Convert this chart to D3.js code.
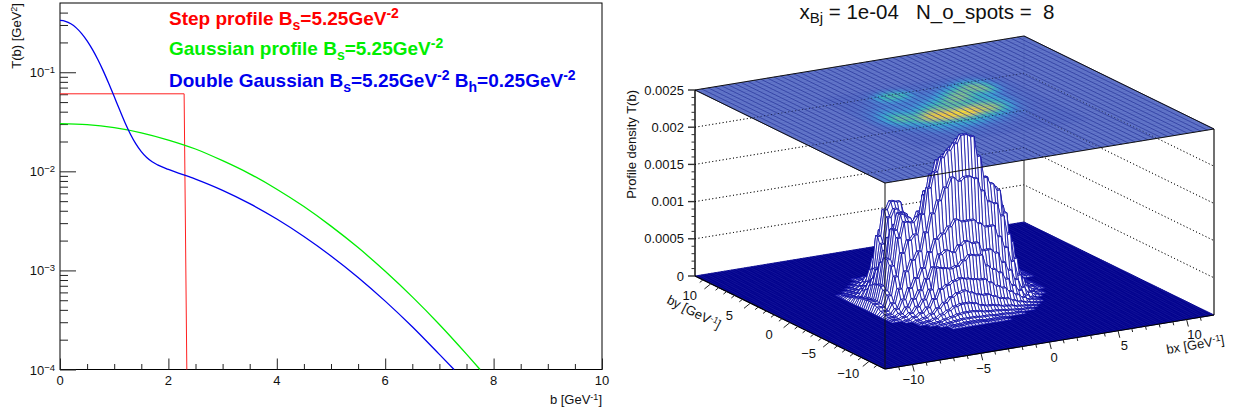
<!DOCTYPE html>
<html>
<head>
<meta charset="utf-8">
<script src="https://cdn.jsdelivr.net/npm/d3@7"></script>
<style>
html, body { margin: 0; padding: 0; background: #fff; }
svg { display: block; }
text { font-family: "Liberation Sans", Arial, sans-serif; fill: #111; }
</style>
</head>
<body>
<script>
// left pad: profiles T(b)
var bStep = [0, 2.29, 2.34];
var tStep = [0.0606, 0.0606, 0.0001];
var bGauss = [0, 0.5, 1, 1.5, 2, 2.5, 3, 3.5, 4, 4.5, 5, 5.5, 6, 6.5, 7, 7.5, 7.75];
var tGauss = [0.0303, 0.0296, 0.0276, 0.0245, 0.0207, 0.0168, 0.0128, 0.00944, 0.0066, 0.00441, 0.0028, 0.0017, 0.00098, 0.000541, 0.000285, 0.000143, 0.0001];
var bDouble = [0, 0.1, 0.2, 0.3, 0.4, 0.5, 0.6, 0.7, 0.8, 0.9, 1, 1.1, 1.2, 1.3, 1.4, 1.5, 1.6, 1.7, 1.8, 2, 2.5, 3, 3.5, 4, 4.5, 5, 5.5, 6, 6.5, 7, 7.27];
var tDouble = [0.3333, 0.3268, 0.3086, 0.2806, 0.2458, 0.2077, 0.1694, 0.1338, 0.1027, 0.0769, 0.0568, 0.0418, 0.031, 0.0237, 0.0189, 0.0158, 0.01377, 0.01248, 0.01162, 0.01045, 0.00835, 0.00643, 0.00472, 0.0033, 0.0022, 0.0014, 0.00085, 0.00049, 0.00027, 0.000142, 0.0001];
var yMajor = [0.0001, 0.001, 0.01, 0.1];
var yMinor = [0.0002, 0.0003, 0.0004, 0.0005, 0.0006, 0.0007, 0.0008, 0.0009, 0.002, 0.003, 0.004, 0.005, 0.006, 0.007, 0.008, 0.009, 0.02, 0.03, 0.04, 0.05, 0.06, 0.07, 0.08, 0.09, 0.2, 0.3, 0.4];
var yLabels = ["\u22124", "\u22123", "\u22122", "\u22121"];
var xMajor = [0, 2, 4, 6, 8, 10];
var xMinor = [0.5, 1, 1.5, 2.5, 3, 3.5, 4.5, 5, 5.5, 6.5, 7, 7.5, 8.5, 9, 9.5];

// right pad: hot spots, read off the top map and the wire peaks
// rows by = 6..-6, columns bx = -6..6, units 1e-5
var gridBx = [-6, -5.5, -5, -4.5, -4, -3.5, -3, -2.5, -2, -1.5, -1, -0.5, 0, 0.5, 1, 1.5, 2, 2.5, 3, 3.5, 4, 4.5, 5, 5.5, 6];
var gridBy = [6, 5.5, 5, 4.5, 4, 3.5, 3, 2.5, 2, 1.5, 1, 0.5, 0, -0.5, -1, -1.5, -2, -2.5, -3, -3.5, -4, -4.5, -5, -5.5, -6];
var density = [
    [0, 0, 0, 0, 0, 1, 2, 3, 5, 5, 4, 3, 2, 2, 2, 3, 3, 3, 4, 5, 5, 4, 2, 1, 0],
    [0, 0, 0, 0, 1, 3, 8, 22, 34, 30, 20, 9, 5, 5, 5, 6, 8, 10, 14, 18, 16, 10, 5, 2, 0],
    [0, 0, 0, 1, 3, 10, 34, 70, 92, 88, 60, 24, 10, 8, 9, 12, 18, 26, 40, 52, 48, 30, 12, 4, 1],
    [0, 0, 1, 3, 7, 22, 66, 100, 110, 108, 90, 44, 16, 14, 16, 24, 36, 58, 84, 98, 92, 60, 24, 7, 2],
    [0, 1, 2, 5, 10, 26, 58, 92, 102, 96, 74, 38, 22, 22, 30, 48, 68, 92, 116, 128, 122, 90, 38, 10, 3],
    [1, 2, 4, 8, 14, 24, 40, 58, 62, 54, 40, 30, 28, 36, 56, 82, 106, 118, 126, 134, 128, 102, 44, 13, 3],
    [2, 3, 8, 14, 20, 26, 30, 34, 36, 34, 32, 32, 40, 58, 88, 112, 124, 122, 114, 128, 132, 108, 42, 12, 3],
    [3, 6, 14, 22, 28, 30, 30, 30, 32, 34, 38, 44, 60, 86, 112, 128, 130, 116, 96, 100, 108, 74, 28, 9, 2],
    [5, 12, 22, 32, 38, 38, 34, 32, 36, 46, 58, 70, 90, 112, 126, 132, 130, 110, 84, 74, 66, 40, 16, 6, 1],
    [7, 16, 30, 46, 54, 50, 44, 40, 48, 66, 84, 94, 104, 118, 122, 120, 108, 92, 76, 60, 42, 24, 10, 4, 1],
    [9, 24, 44, 68, 80, 72, 60, 58, 76, 96, 108, 116, 112, 112, 110, 104, 92, 86, 80, 62, 40, 20, 8, 3, 0],
    [10, 28, 56, 88, 104, 98, 84, 84, 110, 128, 130, 124, 118, 118, 116, 116, 112, 108, 96, 72, 44, 20, 8, 2, 0],
    [11, 30, 64, 102, 122, 116, 108, 120, 146, 158, 150, 140, 134, 136, 140, 142, 136, 126, 106, 76, 42, 18, 6, 2, 0],
    [10, 26, 58, 94, 114, 112, 118, 146, 172, 190, 196, 204, 214, 210, 186, 156, 148, 142, 116, 78, 38, 14, 4, 1, 0],
    [8, 22, 46, 76, 92, 98, 124, 158, 178, 196, 204, 212, 222, 218, 190, 160, 150, 140, 108, 68, 30, 10, 3, 1, 0],
    [5, 14, 32, 54, 68, 78, 102, 126, 142, 158, 170, 164, 168, 164, 146, 130, 126, 108, 82, 48, 20, 6, 2, 0, 0],
    [3, 9, 20, 34, 46, 58, 78, 94, 100, 108, 116, 112, 112, 106, 100, 100, 84, 68, 48, 28, 12, 3, 1, 0, 0],
    [2, 5, 12, 22, 32, 46, 60, 76, 80, 76, 84, 88, 84, 72, 72, 66, 52, 40, 26, 14, 6, 2, 0, 0, 0],
    [1, 3, 7, 14, 22, 34, 62, 60, 58, 60, 66, 72, 70, 54, 48, 42, 32, 22, 14, 6, 2, 0, 0, 0, 0],
    [0, 1, 4, 8, 14, 24, 36, 40, 44, 46, 44, 42, 40, 34, 28, 24, 18, 12, 7, 3, 1, 0, 0, 0, 0],
    [0, 0, 2, 4, 8, 14, 20, 26, 30, 32, 28, 24, 22, 18, 14, 12, 8, 5, 3, 1, 0, 0, 0, 0, 0],
    [0, 0, 1, 2, 4, 8, 12, 16, 18, 18, 16, 12, 10, 8, 6, 5, 3, 2, 1, 0, 0, 0, 0, 0, 0],
    [0, 0, 0, 1, 2, 4, 6, 8, 9, 9, 8, 6, 5, 4, 3, 2, 1, 1, 0, 0, 0, 0, 0, 0, 0],
    [0, 0, 0, 0, 1, 2, 3, 4, 4, 4, 3, 3, 2, 2, 1, 1, 0, 0, 0, 0, 0, 0, 0, 0, 0],
    [0, 0, 0, 0, 0, 1, 1, 2, 2, 2, 1, 1, 1, 0, 0, 0, 0, 0, 0, 0, 0, 0, 0, 0, 0]
];
var zTicks = [0, 0.0005, 0.001, 0.0015, 0.002, 0.0025];
var zLabels = ["0", "0.0005", "0.001", "0.0015", "0.002", "0.0025"];
var zMinor = [0.0001, 0.0002, 0.0003, 0.0004, 0.0006, 0.0007, 0.0008, 0.0009, 0.0011, 0.0012, 0.0013, 0.0014, 0.0016, 0.0017, 0.0018, 0.0019, 0.0021, 0.0022, 0.0023, 0.0024];
var bTicks = [-10, -5, 0, 5, 10];
var bMinor = [-11, -9, -8, -7, -6, -4, -3, -2, -1, 1, 2, 3, 4, 6, 7, 8, 9, 11];
var paletteValues = [0, 25, 60, 100, 130, 170, 200, 222];
var paletteColors = ["#5a6fc6", "#4f7fd0", "#3fa6d8", "#43bcb4", "#86c48e", "#e6cc48", "#ffd03a", "#ffe630"];

var svg = d3.select("body").append("svg")
    .attr("width", 1247)
    .attr("height", 417);

// ---- left pad ----
var xScale = d3.scaleLinear().domain([0, 10]).range([60, 602]);
var yScale = d3.scaleLog().domain([0.0001, 0.5]).range([369.5, 3]);

var left = svg.append("g").attr("class", "leftPad");

left.append("rect")
    .attr("x", 60)
    .attr("y", 3)
    .attr("width", 542)
    .attr("height", 366.5)
    .style("fill", "none")
    .style("stroke", "#000")
    .style("stroke-width", 1);

function tickAxis(axis, at){
    var g = left.append("g").attr("transform", at).call(axis);
    g.selectAll(".domain").remove();
    g.selectAll("text").remove();
    g.selectAll("line").style("stroke", "#222");
    return g;
}

tickAxis(d3.axisRight(yScale).tickValues(yMajor).tickSize(16), "translate(60,0)");
tickAxis(d3.axisRight(yScale).tickValues(yMinor).tickSize(8), "translate(60,0)");
tickAxis(d3.axisTop(xScale).tickValues(xMajor).tickSize(11), "translate(0,369.5)");
tickAxis(d3.axisTop(xScale).tickValues(xMinor).tickSize(5.5), "translate(0,369.5)");

var yText = left.selectAll(".yLabel")
    .data(yMajor)
    .enter()
    .append("text")
    .attr("class", "yLabel")
    .attr("text-anchor", "end")
    .attr("x", 55)
    .attr("y", function(d){ return yScale(d) + 5; })
    .style("font-size", "13px");
yText.append("tspan").text("10");
yText.append("tspan")
    .attr("dy", -4)
    .style("font-size", "9.5px")
    .text(function(d, i){ return yLabels[i]; });

left.selectAll(".xLabel")
    .data(xMajor)
    .enter()
    .append("text")
    .attr("class", "xLabel")
    .attr("text-anchor", "middle")
    .attr("x", function(d){ return xScale(d); })
    .attr("y", 385)
    .style("font-size", "13px")
    .text(function(d){ return d; });

var xTitle = left.append("text")
    .attr("text-anchor", "end")
    .attr("x", 602)
    .attr("y", 404)
    .style("font-size", "13px");
xTitle.append("tspan").text("b [GeV");
xTitle.append("tspan").attr("dy", -4).style("font-size", "9px").text("-1");
xTitle.append("tspan").attr("dy", 4).text("]");

var yTitle = left.append("text")
    .attr("text-anchor", "end")
    .attr("transform", "translate(21,3) rotate(-90)")
    .style("font-size", "13px");
yTitle.append("tspan").text("T(b) [GeV");
yTitle.append("tspan").attr("dy", -4).style("font-size", "9px").text("2");
yTitle.append("tspan").attr("dy", 4).text("]");

var profile = d3.line()
    .x(function(d){ return xScale(d[0]); })
    .y(function(d){ return yScale(d[1]); });

function drawProfile(bs, ts, color, curve, width){
    left.append("path")
        .datum(d3.zip(bs, ts))
        .attr("d", profile.curve(curve))
        .style("fill", "none")
        .style("stroke", color)
        .style("stroke-width", width);
}
drawProfile(bStep, tStep, "#ff2020", d3.curveLinear, 1);
drawProfile(bGauss, tGauss, "#00ee00", d3.curveMonotoneX, 1.3);
drawProfile(bDouble, tDouble, "#0000ee", d3.curveMonotoneX, 1.3);

function note(x, y, color, parts){
    var t = left.append("text")
        .attr("x", x)
        .attr("y", y)
        .style("font-weight", "bold")
        .style("fill", color);
    parts.forEach(function(p){
        t.append("tspan")
            .attr("dy", p[1])
            .style("font-size", p[2] + "px")
            .style("fill", color)
            .text(p[0]);
    });
}
note(169, 25, "#ff0000", [["Step profile B", 0, 19], ["s", 5, 14], ["=5.25GeV", -5, 19], ["-2", -7, 14]]);
note(169, 55, "#00ee00", [["Gaussian profile B", 0, 19], ["s", 5, 14], ["=5.25GeV", -5, 19], ["-2", -7, 14]]);
note(169, 87, "#0000ee", [["Double Gaussian B", 0, 19], ["s", 5, 14], ["=5.25GeV", -5, 19], ["-2", -7, 14], [" B", 7, 19], ["h", 5, 14], ["=0.25GeV", -5, 19], ["-2", -7, 14]]);

// ---- right pad ----
var right = svg.append("g").attr("class", "rightPad");

var uScale = d3.scaleLinear().domain([-12, 12]).range([0, 1]);
var vScale = d3.scaleLinear().domain([12, -12]).range([0, 1]);
var zScale = d3.scaleLinear().domain([0, 0.0025]).range([276, 90]);

// axonometric projection of the lego box
function project(bx, by, z){
    var u = uScale(bx), v = vScale(by);
    return [695 + 329 * u + 190 * v, zScale(z) - 54 * u + 93 * v];
}

var lineGen = d3.line();

// back walls with dotted grid
function backGrid(stroke, opacity){
    zTicks.slice(1, 5).forEach(function(z){
        right.append("path")
            .attr("d", lineGen([project(-12, 12, z), project(12, 12, z), project(12, -12, z)]))
            .style("fill", "none")
            .style("stroke", stroke)
            .style("stroke-opacity", opacity)
            .style("stroke-width", 1)
            .style("stroke-dasharray", "1 2.5");
    });
}
backGrid("#222", 1);
right.append("path")
    .attr("d", lineGen([project(12, 12, 0), project(12, 12, 0.0025)]))
    .style("stroke", "#777")
    .style("stroke-width", 1.6);

// top plane with colour map
var color = d3.scaleLinear().domain(paletteValues).range(paletteColors);
var plane = [[-12, 12], [12, 12], [12, -12], [-12, -12]];
var defs = svg.append("defs");
defs.append("filter").attr("id", "soft")
    .attr("x", "-10%").attr("y", "-10%").attr("width", "120%").attr("height", "120%")
    .append("feGaussianBlur").attr("stdDeviation", 1.5);

right.append("polygon")
    .attr("points", plane.map(function(p){ return project(p[0], p[1], 0.0025); }).join(" "))
    .style("fill", paletteColors[0])
    .style("fill-opacity", 0.95);

var mapCells = [];
density.forEach(function(row, j){
    row.forEach(function(val, i){
        mapCells.push({bx: gridBx[i], by: gridBy[j], val: val});
    });
});
right.append("g").attr("filter", "url(#soft)")
    .selectAll("polygon")
    .data(mapCells)
    .enter()
    .append("polygon")
    .attr("points", function(d){
        return [project(d.bx - 0.25, d.by + 0.25, 0.0025), project(d.bx + 0.25, d.by + 0.25, 0.0025),
                project(d.bx + 0.25, d.by - 0.25, 0.0025), project(d.bx - 0.25, d.by - 0.25, 0.0025)].join(" ");
    })
    .style("fill", function(d){ return color(d.val); })
    .style("stroke", function(d){ return color(d.val); })
    .style("stroke-width", 0.6);

// wire lines over plane and floor
var binEdges = d3.range(101).map(function(i){ return -12 + i * 0.24; });

function wireX(z, edges, stroke, opacity, width){
    var g = right.append("g")
        .style("stroke", stroke)
        .style("stroke-opacity", opacity)
        .style("stroke-width", width)
        .style("fill", "none");
    edges.forEach(function(e){
        g.append("path").attr("d", lineGen([project(e, -12, z), project(e, 12, z)]));
    });
}
function wireY(z, edges, stroke, opacity, width){
    var g = right.append("g")
        .style("stroke", stroke)
        .style("stroke-opacity", opacity)
        .style("stroke-width", width)
        .style("fill", "none");
    edges.forEach(function(e){
        g.append("path").attr("d", lineGen([project(-12, e, z), project(12, e, z)]));
    });
}
var everyOther = binEdges.filter(function(e, i){ return i % 2 === 0; });

right.append("polygon")
    .attr("points", plane.map(function(p){ return project(p[0], p[1], 0); }).join(" "))
    .style("fill", "#2a2aa8");
wireX(0, binEdges, "#00008c", 0.95, 0.9);
wireY(0, binEdges, "#00008c", 0.95, 0.9);
wireX(0.0025, everyOther, "#26349a", 0.7, 1);
wireY(0.0025, everyOther, "#26349a", 0.12, 1);

// dotted lines show through the plane
backGrid("#000", 0.55);

// surface, painted from the back corner forward
// each value is used as read, its walls take one bin
function heightAt(bx, by){
    var i = Math.round((bx - gridBx[0]) * 2), j = Math.round((gridBy[0] - by) * 2);
    if (j < 0 || i < 0 || j >= gridBy.length || i >= gridBx.length) return 0;
    return density[j][i] * 1e-5;
}
var surfaceEdges = binEdges.filter(function(e){ return Math.abs(e) < 7; });
var surfaceCells = [];
for (var c = surfaceEdges.length - 2; c >= 0; c--) {
    for (var r = surfaceEdges.length - 2; r >= 0; r--) {
        var x0 = surfaceEdges[c], x1 = surfaceEdges[c + 1];
        var y0 = surfaceEdges[r], y1 = surfaceEdges[r + 1];
        var hs = [heightAt(x0, y1), heightAt(x1, y1), heightAt(x1, y0), heightAt(x0, y0)];
        if (d3.max(hs) > 0) {
            surfaceCells.push({x0: x0, x1: x1, y0: y0, y1: y1, hs: hs});
        }
    }
}
right.append("g")
    .selectAll("polygon")
    .data(surfaceCells)
    .enter()
    .append("polygon")
    .attr("points", function(d){
        return [project(d.x0, d.y1, d.hs[0]), project(d.x1, d.y1, d.hs[1]),
                project(d.x1, d.y0, d.hs[2]), project(d.x0, d.y0, d.hs[3])].join(" ");
    })
    .style("fill", function(d){ return d3.max(d.hs) > 0.00003 ? "#fff" : "#c8c8f0"; })
    .style("stroke", "#0808a4")
    .style("stroke-width", 0.75)
    .style("stroke-linejoin", "round");

// box edges in front
function edge(a, b, stroke, width){
    right.append("path")
        .attr("d", lineGen([project(a[0], a[1], a[2]), project(b[0], b[1], b[2])]))
        .style("stroke", stroke)
        .style("stroke-width", width);
}
edge([-12, 12, 0.0025], [12, 12, 0.0025], "#111", 1);
edge([12, 12, 0.0025], [12, -12, 0.0025], "#111", 1);
edge([12, -12, 0.0025], [-12, -12, 0.0025], "#111", 1);
edge([-12, -12, 0.0025], [-12, 12, 0.0025], "#111", 1);
edge([-12, -12, 0], [-12, -12, 0.0025], "#111", 1);
edge([12, -12, 0], [12, -12, 0.0025], "#111", 1.2);
edge([-12, 12, 0], [-12, 12, 0.0025], "#000", 1.4);
edge([-12, 12, 0], [-12, -12, 0], "#000", 1.2);
edge([-12, -12, 0], [12, -12, 0], "#000", 1.2);

// z axis
var zAxis = right.append("g");
zTicks.forEach(function(z){
    zAxis.append("line").attr("x1", 688).attr("x2", 695)
        .attr("y1", zScale(z)).attr("y2", zScale(z)).style("stroke", "#333").style("stroke-width", 1.4);
});
zMinor.forEach(function(z){
    zAxis.append("line").attr("x1", 691.5).attr("x2", 695)
        .attr("y1", zScale(z)).attr("y2", zScale(z)).style("stroke", "#333");
});
zAxis.selectAll("text")
    .data(zTicks)
    .enter()
    .append("text")
    .attr("text-anchor", "end")
    .attr("x", 684)
    .attr("y", function(d){ return zScale(d) + 4.5; })
    .style("font-size", "13px")
    .text(function(d, i){ return zLabels[i]; });

right.append("text")
    .attr("text-anchor", "end")
    .attr("transform", "translate(636,90) rotate(-90)")
    .style("font-size", "13px")
    .text("Profile density T(b)");

// bx and by axes on the floor
function floorTicks(values, len, place, dx, dy){
    values.forEach(function(v){
        var p = place(v);
        right.append("line")
            .attr("x1", p[0]).attr("y1", p[1])
            .attr("x2", p[0] + dx * len).attr("y2", p[1] + dy * len)
            .style("stroke", "#222");
    });
}
function onBx(v){ return project(v, -12, 0); }
function onBy(v){ return project(-12, v, 0); }
floorTicks(bTicks, 7, onBx, 0.25, 1);
floorTicks(bMinor, 3.5, onBx, 0.25, 1);
floorTicks(bTicks, 8, onBy, -0.8, 0.65);
floorTicks(bMinor, 4, onBy, -0.8, 0.65);

function minusText(d){ return d < 0 ? "\u2212" + Math.abs(d) : String(d); }
right.selectAll(".bxLabel")
    .data(bTicks)
    .enter()
    .append("text")
    .attr("class", "bxLabel")
    .attr("text-anchor", "middle")
    .attr("x", function(d){ return onBx(d)[0] + 1 + (d + 10) * 0.35; })
    .attr("y", function(d){ return onBx(d)[1] + 19.5; })
    .style("font-size", "13px")
    .text(minusText);
right.selectAll(".byLabel")
    .data(bTicks)
    .enter()
    .append("text")
    .attr("class", "byLabel")
    .attr("text-anchor", "middle")
    .attr("x", function(d){ return onBy(d)[0] - 21; })
    .attr("y", function(d){ return onBy(d)[1] + 16.5; })
    .style("font-size", "13px")
    .text(minusText);

function floorTitle(x, y, angle, name){
    var t = right.append("text")
        .attr("text-anchor", "middle")
        .attr("transform", "translate(" + x + "," + y + ") rotate(" + angle + ")")
        .style("font-size", "13px");
    t.append("tspan").text(name + " [GeV");
    t.append("tspan").attr("dy", -4).style("font-size", "9px").text("-1");
    t.append("tspan").attr("dy", 4).text("]");
}
floorTitle(692, 316, 27, "by");
floorTitle(1196, 349, -10, "bx");

var title = right.append("text")
    .attr("text-anchor", "middle")
    .attr("x", 927)
    .attr("y", 19)
    .style("white-space", "pre")
    .style("font-size", "20.5px");
title.append("tspan").text("x");
title.append("tspan").attr("dy", 4).style("font-size", "15px").text("Bj");
title.append("tspan").attr("dy", -4).text(" = 1e-04   N_o_spots =  8");
</script>
</body>
</html>
